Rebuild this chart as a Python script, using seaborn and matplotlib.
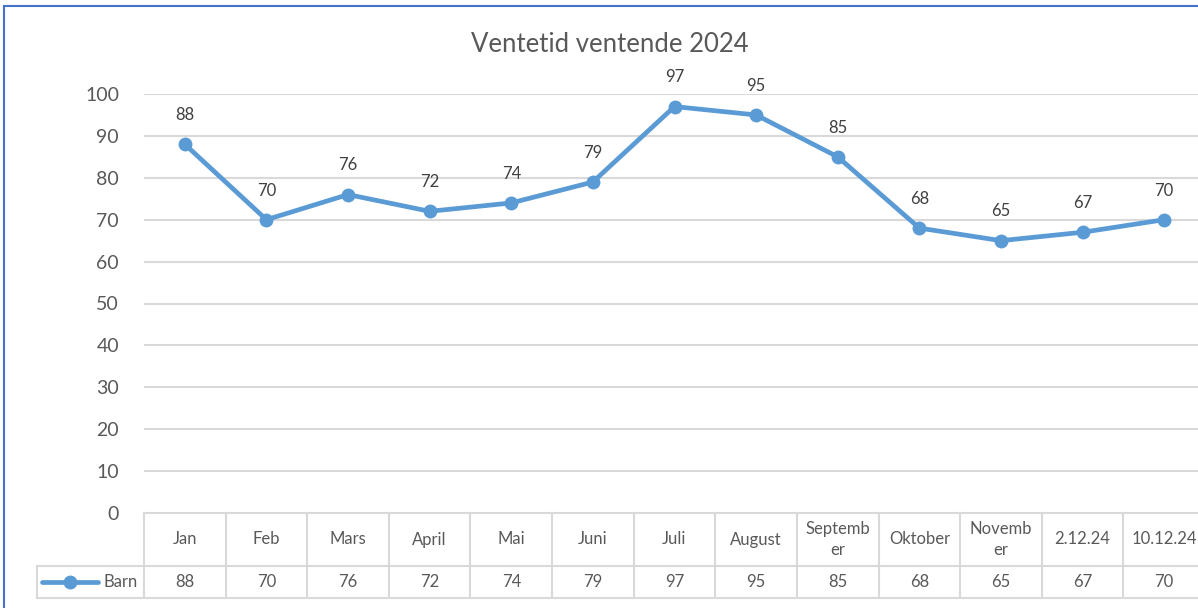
import pandas as pd
import numpy as np
import matplotlib.pyplot as plt
import matplotlib.patches as mpatches
from matplotlib.lines import Line2D
import seaborn as sns

title = "Ventetid ventende 2024"
series_name = "Barn"
categories = ["Jan", "Feb", "Mars", "April", "Mai", "Juni", "Juli", "August",
              "September", "Oktober", "November", "2.12.24", "10.12.24"]
# how the category names are wrapped in the table cells
table_labels = ["Jan", "Feb", "Mars", "April", "Mai", "Juni", "Juli", "August",
                "Septemb\ner", "Oktober", "Novemb\ner", "2.12.24", "10.12.24"]
values = [88, 70, 76, 72, 74, 79, 97, 95, 85, 68, 65, 67, 70]
yticks = [0, 10, 20, 30, 40, 50, 60, 70, 80, 90, 100]

df = pd.DataFrame({"kategori": categories, "verdi": values})

sns.set_theme(style="white")
plt.rcParams['font.family'] = ['Lato', 'DejaVu Sans']

blue = "#5B9BD5"
grid = "#D9D9D9"
txt = "#595959"

W, H = 1198, 608
fig = plt.figure(figsize=(W / 100, H / 100), dpi=100)
# plot area in pixels: left 144, right 1205 (cut off), top 94, bottom 513
ax = fig.add_axes([144 / W, 1 - 513 / H, (1205 - 144) / W, (513 - 94) / H])

sns.lineplot(data=df, x="kategori", y="verdi", ax=ax, sort=False, color=blue,
             linewidth=3.4, marker="o", markersize=10, markeredgecolor=blue,
             markeredgewidth=0, zorder=3)

ax.set_xlim(-0.5, len(categories) - 0.5)
ax.set_ylim(0, 100)
ax.set_yticks(yticks)
ax.set_yticklabels([str(v) for v in yticks], fontsize=14, color=txt)
ax.tick_params(axis="y", length=0, pad=18)
ax.set_xticks([])
ax.set_xlabel("")
ax.set_ylabel("")
for s in ax.spines.values():
    s.set_visible(False)
for v in yticks[1:]:
    ax.axhline(v, color=grid, linewidth=1.5, zorder=1)

for i, v in enumerate(values):
    ax.annotate(str(v), (i, v), xytext=(0, 21), textcoords="offset points",
                ha="center", va="center", fontsize=12, color="#404040")

fig.text(610 / W, 1 - 45 / H, title, ha="center", va="center",
         fontsize=18.5, color=txt)

# data table under the plot
tr = ax.get_xaxis_transform()
ah = 513 - 94
r1 = -(566 - 513) / ah
r2 = -(598 - 513) / ah
colw = (1205 - 144) / len(categories)
legx = -0.5 - (144 - 37) / colw
n = len(categories)
ax.plot([-0.5, n - 0.5], [0, 0], transform=tr, color=grid, lw=1.5, clip_on=False)
for y in (r1, r2):
    ax.plot([legx, n - 0.5], [y, y], transform=tr, color=grid, lw=1.5, clip_on=False)
for k in range(n + 1):
    ax.plot([k - 0.5, k - 0.5], [0, r2], transform=tr, color=grid, lw=1.5, clip_on=False)
ax.plot([legx, legx], [r1, r2], transform=tr, color=grid, lw=1.5, clip_on=False)

for i, (lab, v) in enumerate(zip(table_labels, values)):
    ax.text(i, r1 / 2, lab, transform=tr, ha="center", va="center",
            fontsize=12, color=txt, linespacing=1.45, clip_on=False)
    ax.text(i, (r1 + r2) / 2, str(v), transform=tr, ha="center", va="center",
            fontsize=12, color=txt, clip_on=False)

# legend key in the first cell of the value row
ym = (r1 + r2) / 2
kx0 = legx + 5 / colw
kx1 = legx + 61 / colw
ax.add_line(Line2D([kx0, kx1], [ym, ym], transform=tr, color=blue, lw=3.4,
                   clip_on=False))
ax.add_line(Line2D([(kx0 + kx1) / 2], [ym], transform=tr, color=blue, marker="o",
                   markersize=10, markeredgewidth=0, clip_on=False))
ax.text(-0.5 - 6 / colw, ym, series_name, transform=tr, ha="right", va="center",
        fontsize=12, color=txt, clip_on=False)

# chart border (only left and top edges are in the frame)
fig.patches.append(mpatches.Rectangle((4 / W, -0.1), 1.2, 1.1 - 6 / H,
                                      transform=fig.transFigure, fill=False,
                                      edgecolor="#4472C4", linewidth=1.5))

fig.savefig("out.png", dpi=100)
